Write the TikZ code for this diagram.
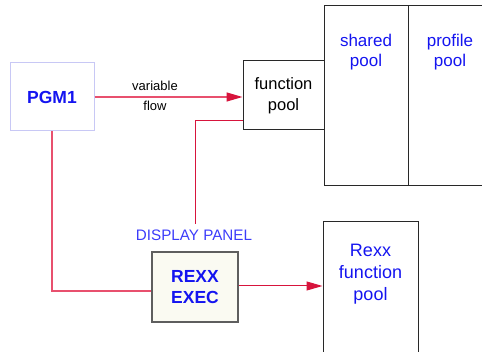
\documentclass[tikz,border=0pt]{standalone}
\usepackage{fontspec}
\setmainfont{Liberation Sans}
\usetikzlibrary{arrows.meta}
\definecolor{txtblue}{RGB}{20,20,240}
\definecolor{lblue}{RGB}{60,60,250}
\definecolor{pinkline}{RGB}{232,80,110}
\definecolor{redline}{RGB}{215,20,60}
\definecolor{boxedge}{RGB}{40,40,40}
\definecolor{lavedge}{RGB}{200,200,245}
\definecolor{cream}{RGB}{250,250,242}
\tikzset{
  box/.style={draw=boxedge, line width=1pt, rectangle, inner sep=0pt},
  lbl/.style={inner sep=0pt, align=center, font=\fontsize{16.5}{21}\selectfont},
  arr/.style={line width=1pt, -{Triangle[length=16pt,width=9pt]}},
}
\begin{document}
\begin{tikzpicture}[x=1pt,y=-1pt]
\useasboundingbox (0,0) rectangle (482,352);
% boxes
\node[draw=lavedge, line width=1pt, minimum width=84pt, minimum height=68pt, inner sep=0pt,
      font=\fontsize{17.5}{20}\selectfont\bfseries, text=txtblue] (pgm) at (52,97) {PGM1};
\node[box, minimum width=81pt, minimum height=69pt] (fpool) at (283.5,95.5) {};
\node[lbl, text=black] (fpooltxt) at (283.5,96) {function\\pool};
\node[box, minimum width=84pt, minimum height=180pt] (shared) at (366,96) {};
\node[box, minimum width=84pt, minimum height=180pt] (profile) at (450,96) {};
\node[lbl, text=txtblue, font=\fontsize{17}{20}\selectfont] (sharedtxt) at (366,52) {shared\\pool};
\node[lbl, text=txtblue, font=\fontsize{17}{20}\selectfont] (profiletxt) at (450,52) {profile\\pool};
\node[draw=boxedge!75, fill=cream, line width=1.2pt, minimum width=86pt, minimum height=70pt, inner sep=0pt,
      align=center, font=\fontsize{17.5}{21}\selectfont\bfseries, text=txtblue] (rexx) at (195,287) {REXX\\EXEC};
\node[box, minimum width=95pt, minimum height=140pt] (rpool) at (370.5,292) {};
\node[lbl, text=txtblue, font=\fontsize{18}{22}\selectfont] (rpooltxt) at (370.5,274) {Rexx\\function\\pool};
\node[inner sep=0pt, text=lblue, font=\fontsize{15.2}{17}\selectfont] (dp) at (194,235.5) {DISPLAY PANEL};
\node[inner sep=0pt, font=\fontsize{13}{15}\selectfont] (var) at (155,85.5) {variable};
\node[inner sep=0pt, font=\fontsize{13}{15}\selectfont] (flow) at (155,106) {flow};
\coordinate (dptop) at (195,224);
% connectors
\draw[line width=1.2pt, pinkline, -{Triangle[length=16pt,width=9pt,fill=redline,color=redline]}] (pgm.east) -- (pgm.east -| fpool.west);
\draw[redline, line width=1pt] ([yshift=-25.5pt]fpool.west) -| (dptop);
\draw[pinkline, line width=1.2pt] (pgm.south) |- ([yshift=-4pt]rexx.west);
\draw[arr, redline] ([yshift=1pt]rexx.east) -- ([yshift=1pt]rexx.east -| rpool.west);
\end{tikzpicture}
\end{document}
